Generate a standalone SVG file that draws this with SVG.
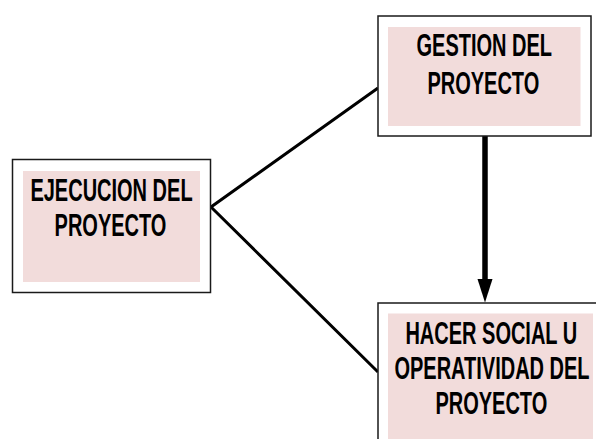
<svg xmlns="http://www.w3.org/2000/svg" width="596" height="439" viewBox="0 0 596 439">
<style>
.box{fill:#ffffff;stroke:#1a1a1a;stroke-width:1.5}
.fill{fill:#f2dcdb}
.t{font-family:"Liberation Sans",Arial,sans-serif;font-weight:bold;font-size:20px;fill:#000;text-anchor:middle}
.c{stroke:#000;stroke-width:3;fill:none}
</style>
<g id="connectors">
<polyline class="c" points="378,88 211,207 378,372"/>
<line x1="485" y1="136" x2="485" y2="281" stroke="#000" stroke-width="5.5"/>
<path d="M477.5,279 L492.5,279 L485,302.5 Z" fill="#000"/>
</g>
<g id="ejecucion">
<rect class="box" x="12.5" y="159.5" width="198" height="133"/>
<rect class="fill" x="23" y="171" width="177" height="111"/>
<text class="t" transform="translate(111.5,200.5) scale(1,1.6)">EJECUCION DEL</text>
<text class="t" transform="translate(110.5,235.5) scale(1,1.6)">PROYECTO</text>
</g>
<g id="gestion">
<rect class="box" x="378" y="16" width="213" height="120"/>
<rect class="fill" x="388" y="27" width="192.5" height="99"/>
<text class="t" transform="translate(484.3,56) scale(1,1.6)">GESTION DEL</text>
<text class="t" transform="translate(483.3,94) scale(1,1.6)">PROYECTO</text>
</g>
<g id="hacer">
<rect class="box" x="378" y="303" width="230" height="150"/>
<rect class="fill" x="388" y="313.5" width="205" height="130"/>
<text class="t" transform="translate(491.3,343.5) scale(1,1.6)">HACER SOCIAL U</text>
<text class="t" transform="translate(492,379) scale(1,1.6)">OPERATIVIDAD DEL</text>
<text class="t" transform="translate(491.3,413.5) scale(1,1.6)">PROYECTO</text>
</g>
</svg>
